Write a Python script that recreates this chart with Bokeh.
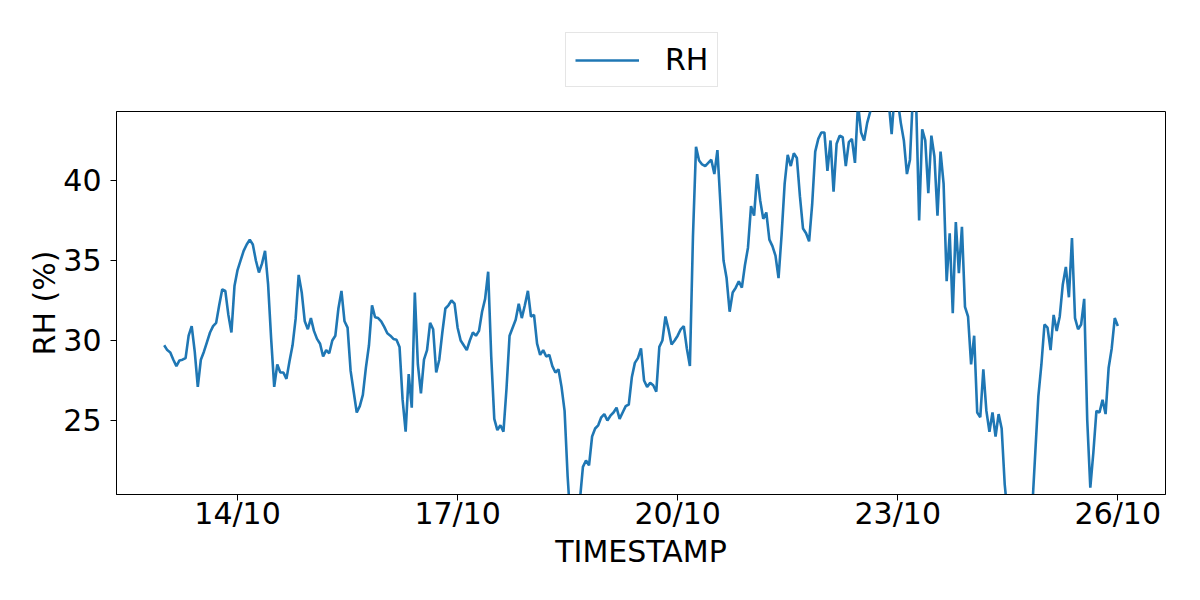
import pandas as pd
from bokeh.plotting import figure
from bokeh.layouts import column
from bokeh.models import (FixedTicker, DatetimeTickFormatter, Legend, LegendItem,
                          Range1d)
from bokeh.embed import file_html
from bokeh.resources import INLINE

# ---------------- data ----------------
start_time = "2023-10-13 00:00"
series_name = "RH"
rh_values = [
    29.7, 29.4, 29.25, 28.8, 28.4, 28.75, 28.8, 28.9, 30.3, 30.9,
    29.3, 27.1, 28.8, 29.3, 29.9, 30.5, 30.9, 31.1, 32.2, 33.2,
    33.1, 31.6, 30.5, 33.4, 34.4, 35.0, 35.6, 36.0, 36.3, 36.0,
    35.0, 34.25, 34.8, 35.6, 33.5, 30.1, 27.1, 28.5, 28.0, 28.0,
    27.6, 28.7, 29.7, 31.35, 34.1, 33.0, 31.2, 30.7, 31.4, 30.6,
    30.1, 29.8, 29.0, 29.4, 29.2, 30.0, 30.3, 32.0, 33.1, 31.2,
    30.8, 28.1, 26.8, 25.5, 25.9, 26.6, 28.3, 29.7, 32.2, 31.45,
    31.4, 31.2, 30.85, 30.45, 30.3, 30.1, 30.05, 29.6, 26.3, 24.3,
    27.9, 25.8, 33.0, 28.5, 26.7, 28.8, 29.4, 31.1, 30.7, 28.0,
    28.8, 30.5, 32.0, 32.2, 32.5, 32.3, 30.8, 30.0, 29.7, 29.4,
    30.0, 30.5, 30.3, 30.6, 31.8, 32.6, 34.3, 29.0, 25.1, 24.4,
    24.7, 24.3, 27.0, 30.3, 30.8, 31.3, 32.3, 31.4, 32.2, 33.1,
    31.5, 31.6, 29.8, 29.1, 29.4, 29.0, 29.1, 28.4, 28.0, 28.2,
    27.1, 25.6, 21.5, 18.5, 18.0, 18.5, 20.0, 22.1, 22.5, 22.2,
    24.0, 24.5, 24.7, 25.2, 25.4, 25.0, 25.3, 25.5, 25.8, 25.1,
    25.5, 25.9, 26.0, 27.7, 28.6, 28.9, 29.5, 27.5, 27.1, 27.35,
    27.2, 26.8, 29.6, 30.0, 31.5, 30.7, 29.75, 30.0, 30.3, 30.7,
    30.9, 29.5, 28.4, 36.5, 42.1, 41.25, 41.0, 40.9, 41.1, 41.3,
    40.4, 41.9, 38.5, 35.0, 33.9, 31.8, 33.0, 33.3, 33.7, 33.3,
    34.7, 35.8, 38.4, 37.8, 40.4, 38.75, 37.6, 38.0, 36.3, 35.9,
    35.3, 33.9, 36.6, 39.8, 41.6, 40.9, 41.7, 41.4, 39.0, 37.0,
    36.7, 36.2, 38.5, 41.8, 42.6, 43.0, 43.0, 40.6, 42.5, 39.3,
    42.3, 42.8, 42.7, 40.9, 42.4, 42.6, 41.1, 44.8, 43.0, 42.5,
    43.6, 44.3, 45.5, 46.5, 47.0, 46.5, 46.0, 45.0, 42.9, 45.5,
    45.0, 43.6, 42.5, 40.4, 41.3, 45.5, 45.0, 37.5, 43.2, 42.5,
    39.2, 42.8, 41.5, 37.8, 41.8, 39.8, 33.7, 36.7, 31.7, 37.4,
    34.2, 37.1, 32.1, 31.5, 28.5, 30.3, 25.5, 25.2, 28.2, 25.6,
    24.3, 25.5, 24.0, 25.4, 24.5, 21.0, 19.0, 17.5, 16.5, 16.0,
    16.0, 16.5, 17.5, 19.0, 19.5, 23.0, 26.5, 28.5, 31.0, 30.8,
    29.4, 31.6, 30.6, 31.5, 33.5, 34.6, 32.7, 36.4, 31.4, 30.7,
    31.0, 32.6, 25.0, 20.8, 23.0, 25.6, 25.5, 26.3, 25.4, 28.3,
    29.5, 31.4, 30.9,
]
x_tick_dates = ["2023-10-14", "2023-10-17", "2023-10-20", "2023-10-23", "2023-10-26"]
y_ticks = [25, 30, 35, 40]
x_label = "TIMESTAMP"
y_label = "RH (%)"

times = pd.date_range(start_time, periods=len(rh_values), freq="h")

# ---------------- styles ----------------
FONT = "DejaVu Sans"
FS = "30px"
LINE_COLOR = "#1f77b4"
LINE_W = 2.6

# ---------------- legend strip (above the plot) ----------------
# Its frame is aligned with the main frame (left = 116px); its ranges are
# set away from the data so only the legend is visible.
LEG_H = 100
leg_fig = figure(width=1200, height=LEG_H, output_backend="svg", toolbar_location=None,
                 x_axis_location=None, y_axis_location=None,
                 x_range=Range1d(-2, -1), y_range=Range1d(-2, -1),
                 min_border=0, outline_line_color=None)
leg_fig.xgrid.visible = False
leg_fig.ygrid.visible = False
leg_r = leg_fig.line(list(range(len(rh_values))), rh_values,
                     line_color=LINE_COLOR, line_width=LINE_W)

legend = Legend(items=[LegendItem(label=series_name, renderers=[leg_r])],
                location=(449, 13), orientation="horizontal")
legend.border_line_color = "#cccccc"
legend.border_line_width = 1
legend.background_fill_color = "white"
legend.background_fill_alpha = 1
legend.padding = 9
legend.margin = 0
legend.glyph_width = 64
legend.glyph_height = 28
legend.label_standoff = 26
legend.label_text_font = FONT
legend.label_text_font_size = FS
legend.label_text_color = "black"
leg_fig.add_layout(legend)

# ---------------- main figure ----------------
pad = pd.Timedelta(hours=15.6)
p = figure(width=1200, height=600 - LEG_H, output_backend="svg", toolbar_location=None,
           x_axis_type="datetime",
           x_range=Range1d(times[0] - pad, times[-1] + pad),
           y_range=Range1d(20.375, 44.31),
           min_border_left=116, min_border_right=35,
           min_border_top=111 - LEG_H, min_border_bottom=106)

r = p.line(times, rh_values, line_color=LINE_COLOR, line_width=LINE_W)

p.xgrid.visible = False
p.ygrid.visible = False
p.outline_line_color = "black"
p.outline_line_width = 1
p.outline_line_alpha = 1

xticks = [pd.Timestamp(d).timestamp() * 1000 for d in x_tick_dates]
p.xaxis.ticker = FixedTicker(ticks=xticks)
fmt = "%d/%m"
p.xaxis.formatter = DatetimeTickFormatter(
    microseconds=fmt, milliseconds=fmt, seconds=fmt, minsec=fmt, minutes=fmt,
    hourmin=fmt, hours=fmt, days=fmt, months=fmt, years=fmt)
p.yaxis.ticker = FixedTicker(ticks=y_ticks)

for ax in (p.xaxis[0], p.yaxis[0]):
    ax.axis_line_color = "black"
    ax.major_tick_line_color = "black"
    ax.minor_tick_line_color = None
    ax.major_tick_out = 6
    ax.major_tick_in = 0
    ax.major_label_text_font = FONT
    ax.major_label_text_font_size = FS
    ax.major_label_text_color = "black"
    ax.axis_label_text_font = FONT
    ax.axis_label_text_font_size = FS
    ax.axis_label_text_font_style = "normal"
    ax.axis_label_text_color = "black"

p.xaxis.axis_label = x_label
p.yaxis.axis_label = y_label
p.yaxis.major_label_standoff = 9
p.xaxis.major_label_standoff = -5
p.xaxis.axis_label_standoff = 0
p.yaxis.axis_label_standoff = -2

layout = column(leg_fig, p, spacing=0)
open("out.html", "w").write(file_html(layout, INLINE))
